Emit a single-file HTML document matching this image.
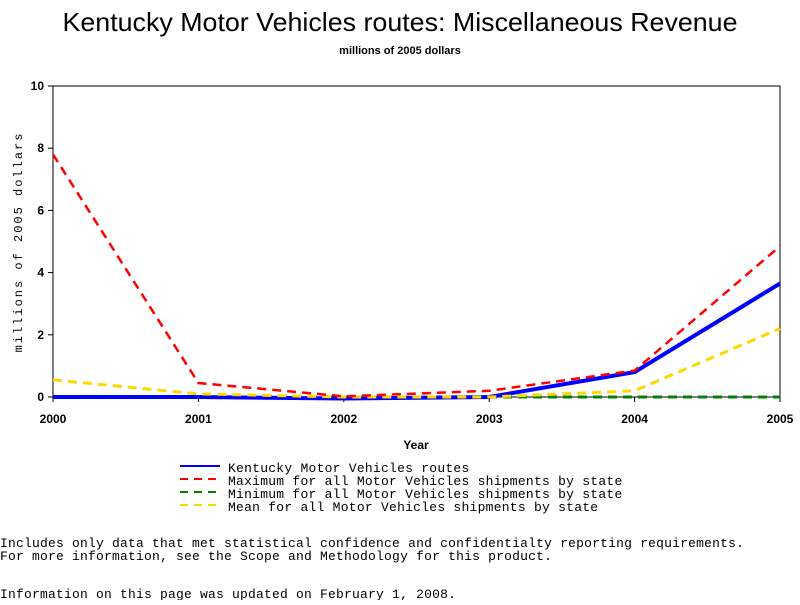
<!DOCTYPE html>
<html><head><meta charset="utf-8"><style>
body{margin:0;width:800px;height:600px;background:#fff;overflow:hidden;font-family:"Liberation Sans",sans-serif}
svg text{fill:#000}
</style></head><body>
<svg width="800" height="600">
<text x="400" y="31" text-anchor="middle" font-size="26" textLength="675" lengthAdjust="spacingAndGlyphs">Kentucky Motor Vehicles routes: Miscellaneous Revenue</text>
<text x="400" y="54" text-anchor="middle" font-size="11" font-weight="bold">millions of 2005 dollars</text>
<g id="axes"></g>
<g id="series"></g>
<text transform="translate(22,242) rotate(-90)" text-anchor="middle" font-family="Liberation Mono,monospace" font-size="12" letter-spacing="2">millions of 2005 dollars</text>
<text x="416" y="449" text-anchor="middle" font-size="12" font-weight="bold">Year</text>
<g font-family="Liberation Mono,monospace" font-size="13" letter-spacing="0.25">
<g><line x1="180" y1="466" x2="220" y2="466" stroke="#0000ff" stroke-width="2"/><text x="228" y="472">Kentucky Motor Vehicles routes</text></g>
<g><line x1="180" y1="479" x2="220" y2="479" stroke="#ff0000" stroke-width="2" stroke-dasharray="8,6"/><text x="228" y="485">Maximum for all Motor Vehicles shipments by state</text></g>
<g><line x1="180" y1="492" x2="220" y2="492" stroke="#008000" stroke-width="2" stroke-dasharray="8,6"/><text x="228" y="498">Minimum for all Motor Vehicles shipments by state</text></g>
<g><line x1="180" y1="505" x2="220" y2="505" stroke="#ffd700" stroke-width="2" stroke-dasharray="8,6"/><text x="228" y="511">Mean for all Motor Vehicles shipments by state</text></g>
</g>
<g font-family="Liberation Mono,monospace" font-size="13" letter-spacing="0.2">
<text x="0" y="547">Includes only data that met statistical confidence and confidentialty reporting requirements.</text>
<text x="0" y="560">For more information, see the Scope and Methodology for this product.</text>
<text x="0" y="598">Information on this page was updated on February 1, 2008.</text>
</g>
</svg>
<script>
const years=[2000,2001,2002,2003,2004,2005];
const yTicks=[0,2,4,6,8,10];
const kentucky=[0,0,-0.05,0,0.8,3.65];
const maximum=[7.8,0.45,0.02,0.2,0.85,4.85];
const minimum=[0,0,0,0,0,0];
const mean=[0.55,0.1,0,0,0.2,2.2];
const L=53,R=780,T=86,B=397;
const xs=i=>L+(R-L)*i/(years.length-1);
const ys=v=>B-(B-T)*v/10;
const NS="http://www.w3.org/2000/svg";
const ax=document.getElementById('axes');
function mk(tag,attrs,parent){const e=document.createElementNS(NS,tag);for(const k in attrs)e.setAttribute(k,attrs[k]);parent.appendChild(e);return e;}
const frame=mk('rect',{x:L,y:T,width:R-L,height:B-T,fill:'none',stroke:'#000','stroke-width':1},ax);


yTicks.forEach(v=>{
 mk('line',{x1:L-5,x2:L,y1:ys(v),y2:ys(v),stroke:'#000'},ax);
 const t=mk('text',{x:L-9,y:ys(v)+4,'text-anchor':'end','font-size':12,'font-weight':'bold'},ax);
 t.textContent=v;
 
 
});
years.forEach((y,i)=>{
 mk('line',{x1:xs(i),x2:xs(i),y1:B,y2:B+5,stroke:'#000'},ax);
 const t=mk('text',{x:xs(i),y:B+26,'text-anchor':'middle','font-size':12,'font-weight':'bold'},ax);
 t.textContent=y;
 
 
});
const sg=document.getElementById('series');
function line(data,color,w,dash,name){
 const p=mk('polyline',{points:data.map((v,i)=>xs(i)+','+ys(v)).join(' '),fill:'none',stroke:color,'stroke-width':w},sg);
 if(dash)p.setAttribute('stroke-dasharray',dash);
 
 
}
line(minimum,'#008000',3,'9,6','series-minimum');
line(kentucky,'#0000ff',4,null,'series-kentucky');
line(mean,'#ffd700',3,'9,6','series-mean');
line(maximum,'#ff0000',2.5,'9,6','series-maximum');
</script>
</body></html>
